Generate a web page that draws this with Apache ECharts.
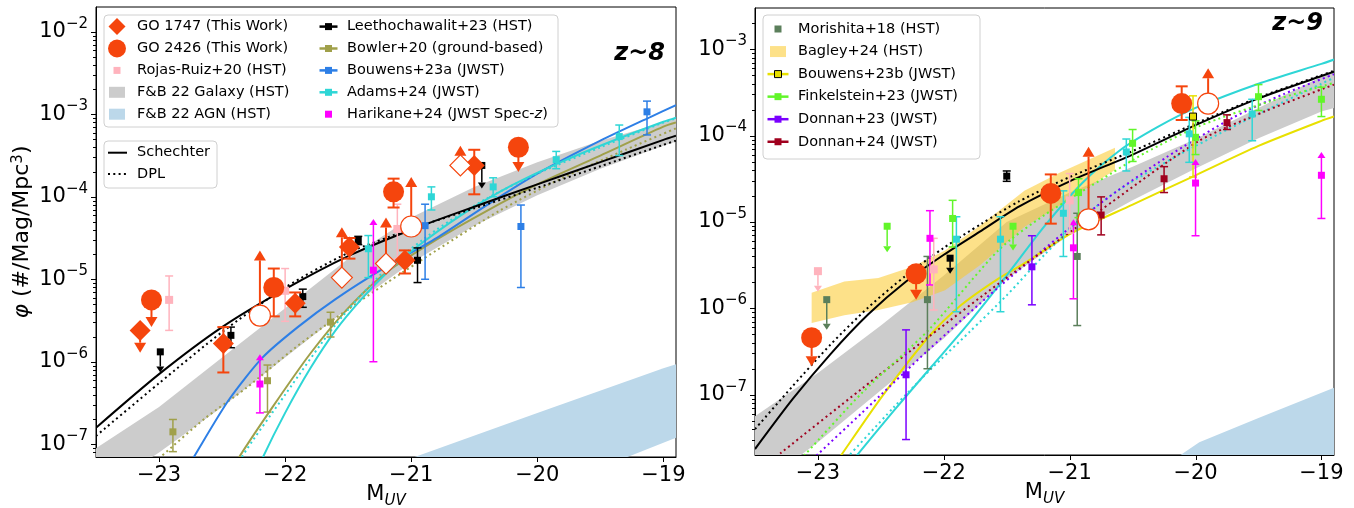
<!DOCTYPE html>
<html><head><meta charset="utf-8">
<script src="https://cdn.jsdelivr.net/npm/echarts@6/dist/echarts.min.js"></script>
<style>html,body{margin:0;padding:0;background:#fff}#c{width:1354px;height:508px}</style>
</head><body><div id="c"></div><script>
// ================= DATA (log10 phi values) =================
const X_TICKS = [-23, -22, -21, -20, -19];
// rows: [M_UV, log10 phi, log10 low (or arrow tip for upper limits), log10 high (or arrow tip for lower limits), limit 0/1(upper)/2(lower)]
// ---- z~8 ----
const go1747FilledZ8 = [[-23.15,-5.62,-5.89,null,1],[-22.49,-5.78,-6.13,-5.58,0],[-21.92,-5.29,-5.45,-5.16,0],[-21.49,-4.61,-4.75,-4.50,0],[-21.05,-4.77,-4.93,-4.65,0],[-20.50,-3.62,-3.97,-3.43,0]];
const go1747OpenZ8 = [[-21.55,-4.98,null,-4.37,2],[-21.20,-4.81,null,-4.25,2],[-20.61,-3.62,null,-3.38,2]];
const go2426FilledZ8 = [[-23.06,-5.25,-5.58,null,1],[-22.09,-5.10,-5.45,-4.87,0],[-21.14,-3.94,-4.13,-3.78,0],[-20.15,-3.40,-3.70,null,1]];
const go2426OpenZ8 = [[-22.20,-5.44,null,-4.65,2],[-21.00,-4.36,null,-3.76,2]];
const rojasZ8 = [[-22.92,-5.25,-5.62,-4.96,0],[-22.00,-5.14,-5.51,-4.87,0],[-21.11,-4.39,-4.75,-4.09,0]];
const leethoZ8 = [[-22.99,-5.88,-6.13,null,1],[-22.43,-5.68,-5.83,-5.58,0],[-21.86,-5.21,-5.34,-5.12,0],[-21.42,-4.53,-4.58,-4.48,0],[-20.95,-4.77,-5.04,-4.62,0],[-20.44,-3.62,-3.90,null,1]];
const bowlerZ8 = [[-22.89,-6.85,-7.09,-6.70,0],[-22.14,-6.23,-6.61,-6.04,0],[-21.64,-5.52,-5.70,-5.40,0]];
const bouwensZ8 = [[-20.89,-4.35,-5.00,-4.09,0],[-20.13,-4.36,-5.10,-4.10,0],[-19.13,-2.97,-3.25,-2.84,0]];
const adamsZ8 = [[-21.34,-4.63,-4.98,-4.47,0],[-20.84,-4.00,-4.16,-3.88,0],[-20.35,-3.88,-4.00,-3.77,0],[-19.85,-3.55,-3.66,-3.45,0],[-19.35,-3.27,-3.50,-3.13,0]];
const harikaneZ8 = [[-22.20,-6.27,-6.62,-5.91,2],[-21.30,-4.89,-6.00,-4.27,2]];
// curves [M, log10 phi]
const schechterZ8 = [[-23.5,-6.80],[-23.0,-6.15],[-22.5,-5.58],[-22.0,-5.12],[-21.5,-4.72],[-21.0,-4.40],[-20.5,-4.12],[-20.0,-3.85],[-19.5,-3.58],[-19.0,-3.31],[-18.9,-3.26]];
const dplZ8 = [[-23.5,-6.90],[-23.0,-6.26],[-22.5,-5.64],[-22.0,-5.10],[-21.5,-4.68],[-21.0,-4.39],[-20.5,-4.14],[-20.0,-3.89],[-19.5,-3.63],[-19.0,-3.37],[-18.9,-3.32]];
const bouwensFitZ8 = [[-22.8,-7.35],[-22.73,-7.17],[-22.45,-6.47],[-22.18,-5.95],[-21.9,-5.58],[-21.6,-5.24],[-21.2,-4.85],[-20.8,-4.50],[-20.4,-4.10],[-20.0,-3.72],[-19.5,-3.32],[-19.1,-3.03],[-18.9,-2.89]];
const adamsFitZ8 = [[-22.3,-7.6],[-22.18,-7.17],[-22.0,-6.62],[-21.8,-6.08],[-21.6,-5.62],[-21.4,-5.25],[-21.2,-4.93],[-21.0,-4.66],[-20.6,-4.22],[-20.2,-3.86],[-19.8,-3.57],[-19.4,-3.32],[-19.0,-3.09],[-18.9,-3.04]];
const adamsDplZ8 = [[-22.45,-7.5],[-22.35,-7.17],[-22.0,-6.40],[-21.6,-5.55],[-21.2,-4.88],[-20.8,-4.40],[-20.4,-4.02],[-20.0,-3.72],[-19.5,-3.40],[-19.0,-3.10],[-18.9,-3.05]];
const bowlerFitZ8 = [[-22.5,-7.55],[-22.37,-7.17],[-22.1,-6.55],[-21.8,-5.90],[-21.5,-5.35],[-21.2,-4.92],[-20.8,-4.52],[-20.4,-4.17],[-20.0,-3.85],[-19.5,-3.50],[-19.0,-3.15],[-18.9,-3.10]];
const bowlerDplZ8 = [[-23.1,-7.3],[-23.0,-7.17],[-22.63,-6.68],[-22.31,-6.32],[-21.92,-5.83],[-21.6,-5.47],[-21.2,-5.05],[-20.8,-4.65],[-20.3,-4.17],[-19.8,-3.77],[-19.3,-3.43],[-18.9,-3.17]];
const fbGalaxyTopZ8 = [[-23.5,-7.05],[-23.0,-6.55],[-22.5,-5.95],[-22.0,-5.35],[-21.5,-4.75],[-21.0,-4.25],[-20.5,-3.88],[-20.0,-3.58],[-19.5,-3.32],[-19.0,-3.10],[-18.9,-3.05]];
const fbGalaxyBotZ8 = [[-23.5,-7.6],[-23.0,-7.1],[-22.5,-6.55],[-22.0,-5.95],[-21.5,-5.35],[-21.0,-4.80],[-20.5,-4.35],[-20.0,-3.98],[-19.5,-3.66],[-19.0,-3.38],[-18.9,-3.33]];
const fbAgnTopZ8 = [[-21.2,-7.3],[-21.0,-7.17],[-20.0,-6.62],[-19.0,-6.08],[-18.9,-6.03]];
const fbAgnBotZ8 = [[-21.2,-8.3],[-19.31,-7.17],[-18.9,-6.92]];
// ---- z~9 ----
const go2426FilledZ9 = [[-23.05,-6.34,-6.67,null,1],[-22.22,-5.60,-5.90,null,1],[-21.15,-4.67,-5.02,-4.45,0],[-20.11,-3.63,-3.82,-3.43,0]];
const go2426OpenZ9 = [[-20.85,-4.97,null,-4.13,2],[-19.90,-3.63,null,-3.22,2]];
const morishitaZ9 = [[-22.93,-5.90,-6.25,null,1],[-22.13,-5.90,-6.70,-5.40,0],[-20.94,-5.40,-6.20,-4.90,0]];
const bouwensZ9 = [[-20.02,-3.78,-4.48,-3.54,0]];
const finkelsteinZ9 = [[-22.45,-5.05,-5.35,null,1],[-21.93,-4.96,-5.29,-4.75,0],[-21.45,-5.05,-5.33,null,1],[-20.93,-4.66,-4.95,-4.50,0],[-20.50,-4.09,-4.30,-3.93,0],[-20.00,-4.02,-4.22,-3.83,0],[-19.50,-3.55,-3.71,-3.41,0],[-19.00,-3.58,-3.78,-3.44,0]];
const donnan23Z9 = [[-22.30,-6.77,-7.52,-6.25,0],[-21.30,-5.52,-5.96,-5.16,0]];
const donnan24Z9 = [[-20.75,-4.92,-5.15,-4.71,0],[-20.25,-4.50,-4.66,-4.36,0],[-19.75,-3.85,-3.93,-3.76,0]];
const adamsZ9 = [[-21.90,-5.20,-6.04,-4.94,0],[-21.55,-5.20,-6.04,-4.94,0],[-21.05,-4.90,-5.40,-4.64,0],[-20.55,-4.19,-4.41,-4.04,0],[-20.05,-3.98,-4.31,-3.79,0],[-19.55,-3.75,-4.06,-3.58,0]];
const harikaneZ9 = [[-22.11,-5.19,-5.73,-4.87,0],[-20.97,-5.30,-5.89,-4.97,2],[-20.00,-4.55,-5.16,-4.27,2],[-19.00,-4.46,-4.96,-4.19,2]];
const rojasZ9 = [[-23.00,-5.57,-5.81,null,1],[-22.08,-5.55,-6.02,-5.19,0],[-21.00,-4.75,-5.13,-4.44,0]];
const leethoZ9 = [[-21.95,-5.42,-5.60,null,1],[-21.50,-4.47,-4.53,-4.41,0]];
const schechterZ9 = [[-23.5,-7.63],[-23.2,-7.05],[-22.9,-6.53],[-22.6,-6.07],[-22.3,-5.69],[-22.0,-5.38],[-21.7,-5.10],[-21.4,-4.82],[-21.0,-4.53],[-20.5,-4.22],[-20.0,-3.88],[-19.5,-3.57],[-19.0,-3.31],[-18.9,-3.26]];
const dplZ9 = [[-23.5,-7.40],[-23.2,-6.90],[-22.9,-6.42],[-22.6,-5.99],[-22.3,-5.62],[-22.0,-5.30],[-21.7,-5.02],[-21.4,-4.76],[-21.0,-4.48],[-20.5,-4.18],[-20.0,-3.86],[-19.5,-3.56],[-19.0,-3.30],[-18.9,-3.25]];
const adamsFitZ9 = [[-22.75,-7.8],[-22.7,-7.72],[-22.4,-7.19],[-22.1,-6.68],[-21.8,-6.17],[-21.5,-5.62],[-21.2,-5.05],[-20.9,-4.55],[-20.6,-4.17],[-20.3,-3.90],[-20.0,-3.68],[-19.5,-3.40],[-19.0,-3.17],[-18.9,-3.12]];
const adamsDplZ9 = [[-22.8,-7.78],[-22.4,-7.15],[-22.1,-6.70],[-21.8,-6.28],[-21.5,-5.85],[-21.2,-5.38],[-20.9,-4.95],[-20.6,-4.62],[-20.3,-4.36],[-20.0,-4.12],[-19.5,-3.75],[-19.0,-3.40],[-18.9,-3.33]];
const bouwensFitZ9 = [[-22.85,-7.78],[-22.81,-7.69],[-22.49,-7.02],[-22.12,-6.33],[-21.86,-5.96],[-21.56,-5.65],[-21.36,-5.48],[-21.0,-5.14],[-20.5,-4.80],[-20.0,-4.46],[-19.5,-4.12],[-19.0,-3.83],[-18.9,-3.78]];
const finkelsteinDplZ9 = [[-23.2,-7.84],[-23.1,-7.69],[-22.65,-6.98],[-22.12,-6.25],[-21.56,-5.32],[-21.2,-4.92],[-20.76,-4.52],[-20.4,-4.20],[-19.97,-3.89],[-19.4,-3.60],[-18.9,-3.39]];
const donnan23DplZ9 = [[-23.1,-7.84],[-23.0,-7.69],[-22.65,-7.21],[-22.12,-6.48],[-21.56,-5.75],[-20.76,-4.79],[-20.23,-4.25],[-19.70,-3.79],[-19.3,-3.52],[-18.9,-3.29]];
const donnan24DplZ9 = [[-23.4,-7.8],[-23.29,-7.67],[-22.65,-6.93],[-22.12,-6.33],[-21.56,-5.71],[-20.76,-4.87],[-19.97,-4.06],[-19.45,-3.72],[-18.9,-3.41]];
const fbGalaxyTopZ9 = [[-23.5,-7.25],[-23.0,-6.75],[-22.5,-6.2],[-22.0,-5.62],[-21.5,-5.0],[-21.0,-4.66],[-20.5,-4.36],[-20.0,-4.04],[-19.5,-3.68],[-19.0,-3.32],[-18.9,-3.27]];
const fbGalaxyBotZ9 = [[-23.5,-8.1],[-23.0,-7.55],[-22.5,-6.95],[-22.0,-6.35],[-21.5,-5.66],[-21.0,-5.15],[-20.5,-4.75],[-20.0,-4.38],[-19.5,-4.03],[-19.0,-3.72],[-18.9,-3.68]];
const fbAgnTopZ9 = [[-20.3,-7.85],[-20.13,-7.71],[-19.97,-7.55],[-19.5,-7.27],[-18.9,-6.92]];
const fbAgnBotZ9 = [[-20.3,-9.0],[-18.9,-8.5]];
const bagleyTopZ9 = [[-23.05,-5.82],[-22.79,-5.69],[-22.52,-5.65],[-22.25,-5.52],[-21.99,-5.33],[-21.71,-5.04],[-21.36,-4.64],[-21.08,-4.43],[-20.64,-4.14]];
const bagleyBotZ9 = [[-23.05,-6.17],[-22.79,-6.08],[-22.52,-6.02],[-22.25,-5.93],[-21.99,-5.79],[-21.71,-5.50],[-21.36,-5.06],[-21.08,-4.81],[-20.64,-4.40]];
// legend labels
const legendZ8Col1 = ['GO 1747 (This Work)','GO 2426 (This Work)','Rojas-Ruiz+20 (HST)','F&B 22 Galaxy (HST)','F&B 22 AGN (HST)'];
const legendZ8Col2 = ['Leethochawalit+23 (HST)','Bowler+20 (ground-based)','Bouwens+23a (JWST)','Adams+24 (JWST)','Harikane+24 (JWST Spec-'];
const legendFit = ['Schechter','DPL'];
const legendZ9 = ['Morishita+18 (HST)','Bagley+24 (HST)','Bouwens+23b (JWST)','Finkelstein+23 (JWST)','Donnan+23 (JWST)','Donnan+24 (JWST)'];

// ================= STYLE =================
const FONT = '"DejaVu Sans", sans-serif';
const C = {orange:'#f5450d', pink:'#ffb3bd', gray:'#cccccc', agn:'#bcd8ea', black:'#000000', olive:'#a0a04a',
  blue:'#2d7fe6', cyan:'#2ed6d6', magenta:'#ff00ff', morishita:'#5b7f5b', bagley:'rgba(252,200,40,0.55)',
  yellow:'#e8e000', green:'#62f52a', purple:'#7a00ff', red:'#a0001e'};
const P = v => Math.pow(10, v);

function errSeries(rows, color, gi, o) {
  o = Object.assign({lw:1.5, cap:4, hw:4, hl:6, z:3}, o || {});
  return {
    type:'custom', xAxisIndex:gi, yAxisIndex:gi, z:o.z, silent:true, clip:true,
    dimensions:['x','y','lo','hi','lim'], encode:{x:0, y:1},
    data: rows.map(r => [r[0], P(r[1]), r[2]==null?0:P(r[2]), r[3]==null?0:P(r[3]), r[4]||0]),
    renderItem: (params, api) => {
      const x = api.value(0), y = api.value(1), lo = api.value(2), hi = api.value(3), lim = api.value(4);
      const p = api.coord([x, y]); const cx = p[0];
      const ch = []; const st = {stroke:color, lineWidth:o.lw};
      const L = (x1,y1,x2,y2) => ch.push({type:'line', shape:{x1,y1,x2,y2}, style:st});
      const Y = v => api.coord([x, v])[1];
      if (lim === 0) {
        const a = Y(lo), b = Y(hi);
        L(cx,a,cx,b); L(cx-o.cap,a,cx+o.cap,a); L(cx-o.cap,b,cx+o.cap,b);
      } else if (lim === 1) {
        const t = Y(lo); const s = hi > 0 ? Y(hi) : p[1];
        L(cx,s,cx,t-o.hl); if (hi > 0) L(cx-o.cap,s,cx+o.cap,s);
        ch.push({type:'polygon', shape:{points:[[cx-o.hw,t-o.hl],[cx+o.hw,t-o.hl],[cx,t]]}, style:{fill:color}});
      } else {
        const t = Y(hi); const s = lo > 0 ? Y(lo) : p[1];
        L(cx,s,cx,t+o.hl); if (lo > 0) L(cx-o.cap,s,cx+o.cap,s);
        ch.push({type:'polygon', shape:{points:[[cx-o.hw,t+o.hl],[cx+o.hw,t+o.hl],[cx,t]]}, style:{fill:color}});
      }
      return {type:'group', children:ch};
    }
  };
}
function markSeries(rows, symbol, size, color, gi, o) {
  o = o || {};
  return {type:'scatter', xAxisIndex:gi, yAxisIndex:gi, symbol, symbolSize:size, z:o.z||4, silent:true,
    itemStyle:{color:o.fill||color, borderColor:o.border||color, borderWidth:o.bw||0, opacity:1},
    data: rows.map(r => [r[0], P(r[1])])};
}
// smooth curve drawn as a polyline through the axis scales (pixel-space smoothing)
function curve(pts, color, dotted, gi) {
  return {type:'custom', xAxisIndex:gi, yAxisIndex:gi, z:2, silent:true, clip:true,
    data:[[pts[pts.length-1][0], P(pts[pts.length-1][1])]], encode:{x:0, y:1},
    renderItem: (params, api) => ({type:'polyline',
      shape:{points: pts.map(p => api.coord([p[0], P(p[1])])), smooth:0.25},
      style:{stroke:color, lineWidth:2, fill:null, lineDash: dotted ? [2, 3.3] : null, lineJoin:'round'}})};
}
function band(top, bot, color, gi) {
  return {type:'custom', xAxisIndex:gi, yAxisIndex:gi, z:1, silent:true, clip:true,
    data:[[-21, 1e-5]], encode:{x:0, y:1},
    renderItem: (params, api) => {
      const pts = top.map(p => api.coord([p[0], P(p[1])]));
      for (let i = bot.length-1; i >= 0; i--) pts.push(api.coord([bot[i][0], P(bot[i][1])]));
      return {type:'polygon', shape:{points:pts}, style:{fill:color}};
    }};
}
function tickSeries(gi, xmin, ymin, ymax) {
  return {type:'custom', xAxisIndex:gi, yAxisIndex:gi, z:10, silent:true, clip:false,
    data:[[xmin, ymin]], encode:{x:0, y:1},
    renderItem: (params, api) => {
      const ch = []; const st = {stroke:'#000', lineWidth:1};
      const c0 = api.coord([xmin, ymin]);
      for (let n = -9; n <= -1; n++) for (let k = 1; k <= 9; k++) {
        const v = k * Math.pow(10, n);
        if (v < ymin * 1.0001 || v > ymax * 0.9999) continue;
        const py = Math.round(api.coord([xmin, v])[1]) + 0.5; const len = k === 1 ? 5 : 3;
        ch.push({type:'line', shape:{x1:c0[0]-len, y1:py, x2:c0[0], y2:py}, style:st});
      }
      X_TICKS.forEach(m => { const px = Math.round(api.coord([m, ymin])[0]) + 0.5;
        ch.push({type:'line', shape:{x1:px, y1:c0[1], x2:px, y2:c0[1]+5}, style:st}); });
      return {type:'group', children:ch};
    }};
}

const orangeErr = {lw:2, cap:6, hw:6, hl:10, z:5};
const smallArrow = {lw:1.5, cap:4, hw:4, hl:6, z:3};

const seriesZ8 = [
  band(fbGalaxyTopZ8, fbGalaxyBotZ8, C.gray, 0),
  band(fbAgnTopZ8, fbAgnBotZ8, C.agn, 0),
  curve(bowlerFitZ8, C.olive, false, 0), curve(bowlerDplZ8, C.olive, true, 0),
  curve(bouwensFitZ8, C.blue, false, 0),
  curve(adamsFitZ8, C.cyan, false, 0), curve(adamsDplZ8, C.cyan, true, 0),
  curve(schechterZ8, C.black, false, 0), curve(dplZ8, C.black, true, 0),
  errSeries(rojasZ8, C.pink, 0, smallArrow), markSeries(rojasZ8, 'rect', 8, C.pink, 0),
  errSeries(leethoZ8, C.black, 0, smallArrow), markSeries(leethoZ8, 'rect', 7, C.black, 0),
  errSeries(bowlerZ8, C.olive, 0, smallArrow), markSeries(bowlerZ8, 'rect', 7, C.olive, 0),
  errSeries(bouwensZ8, C.blue, 0, smallArrow), markSeries(bouwensZ8, 'rect', 7, C.blue, 0),
  errSeries(adamsZ8, C.cyan, 0, smallArrow), markSeries(adamsZ8, 'rect', 7, C.cyan, 0),
  errSeries(harikaneZ8, C.magenta, 0, smallArrow), markSeries(harikaneZ8, 'rect', 7, C.magenta, 0),
  errSeries(go1747FilledZ8, C.orange, 0, orangeErr), errSeries(go1747OpenZ8, C.orange, 0, orangeErr),
  errSeries(go2426FilledZ8, C.orange, 0, orangeErr), errSeries(go2426OpenZ8, C.orange, 0, orangeErr),
  markSeries(go1747FilledZ8, 'diamond', 21, C.orange, 0, {z:6}),
  markSeries(go1747OpenZ8, 'diamond', 21, C.orange, 0, {z:6, fill:'#fff', border:C.orange, bw:1.2}),
  markSeries(go2426FilledZ8, 'circle', 21, C.orange, 0, {z:6}),
  markSeries(go2426OpenZ8, 'circle', 21, C.orange, 0, {z:6, fill:'#fff', border:C.orange, bw:1.2}),
  tickSeries(0, -23.5, 7e-8, 0.02)
];
const seriesZ9 = [
  band(fbGalaxyTopZ9, fbGalaxyBotZ9, C.gray, 1),
  band(fbAgnTopZ9, fbAgnBotZ9, C.agn, 1),
  band(bagleyTopZ9, bagleyBotZ9, C.bagley, 1),
  curve(bouwensFitZ9, C.yellow, false, 1),
  curve(adamsFitZ9, C.cyan, false, 1), curve(adamsDplZ9, C.cyan, true, 1),
  curve(donnan23DplZ9, C.purple, true, 1), curve(donnan24DplZ9, C.red, true, 1),
  curve(finkelsteinDplZ9, C.green, true, 1),
  curve(schechterZ9, C.black, false, 1), curve(dplZ9, C.black, true, 1),
  errSeries(morishitaZ9, C.morishita, 1, smallArrow), markSeries(morishitaZ9, 'rect', 7, C.morishita, 1),
  errSeries(bouwensZ9, C.yellow, 1, smallArrow), markSeries(bouwensZ9, 'rect', 7, C.yellow, 1, {border:'#000', bw:1}),
  errSeries(finkelsteinZ9, C.green, 1, smallArrow), markSeries(finkelsteinZ9, 'rect', 7, C.green, 1),
  errSeries(donnan23Z9, C.purple, 1, smallArrow), markSeries(donnan23Z9, 'rect', 7, C.purple, 1),
  errSeries(donnan24Z9, C.red, 1, smallArrow), markSeries(donnan24Z9, 'rect', 7, C.red, 1),
  errSeries(adamsZ9, C.cyan, 1, smallArrow), markSeries(adamsZ9, 'rect', 7, C.cyan, 1),
  errSeries(harikaneZ9, C.magenta, 1, smallArrow), markSeries(harikaneZ9, 'rect', 7, C.magenta, 1),
  errSeries(rojasZ9, C.pink, 1, smallArrow), markSeries(rojasZ9, 'rect', 8, C.pink, 1),
  errSeries(leethoZ9, C.black, 1, smallArrow), markSeries(leethoZ9, 'rect', 7, C.black, 1),
  errSeries(go2426FilledZ9, C.orange, 1, orangeErr), errSeries(go2426OpenZ9, C.orange, 1, orangeErr),
  markSeries(go2426FilledZ9, 'circle', 21, C.orange, 1, {z:6}),
  markSeries(go2426OpenZ9, 'circle', 21, C.orange, 1, {z:6, fill:'#fff', border:C.orange, bw:1.2}),
  tickSeries(1, -23.5, 2e-8, 3e-3)
];

// ================= AXES =================
const richTick = {
  b:{fontSize:21, fontFamily:FONT, color:'#000', padding:[5,0,0,0], verticalAlign:'bottom'},
  s:{fontSize:15, fontFamily:FONT, color:'#000', verticalAlign:'top'}
};
function xAxisCfg(gi) {
  return {type:'value', gridIndex:gi, min:-23.5, max:-18.9, splitLine:{show:false},
    axisLine:{show:true, lineStyle:{color:'#000', width:1}}, axisTick:{show:false},
    axisLabel:{fontSize:21, fontFamily:FONT, color:'#000', margin:8,
      formatter: v => (Math.abs(v - Math.round(v)) < 1e-6 ? '\u2212' + Math.abs(Math.round(v)) : '')},
    name:'{m|M}{s|UV}', nameLocation:'middle', nameGap:27, nameMoveOverlap:false,
    nameTextStyle:{verticalAlign:'top', rich:{m:{fontSize:21, fontFamily:FONT, color:'#000', padding:[0,0,4,0], verticalAlign:'bottom'},
      s:{fontSize:15, fontFamily:FONT, fontStyle:'italic', color:'#000', verticalAlign:'bottom'}}}};
}
function yAxisCfg(gi, mn, mx, withName) {
  const c = {type:'log', logBase:10, gridIndex:gi, min:mn, max:mx, splitLine:{show:false},
    axisLine:{show:true, lineStyle:{color:'#000', width:1}}, axisTick:{show:false}, minorTick:{show:false},
    axisLabel:{margin:8, padding:[0,0,5,0], rich:richTick,
      formatter: v => { const l = Math.log10(v), r = Math.round(l);
        return Math.abs(l - r) < 1e-6 ? '{b|10}{s|\u2212' + Math.abs(r) + '}' : ''; }}};
  if (withName) {
    c.name = '{i|\u03c6}{n| (#/Mag/Mpc}{s|3}{n|)}'; c.nameLocation = 'middle'; c.nameGap = 63; c.nameRotate = 90;
    c.nameMoveOverlap = false;
    c.nameTextStyle = {rich:{i:{fontSize:22, fontFamily:FONT, fontStyle:'italic', color:'#000', verticalAlign:'bottom'},
      n:{fontSize:22, fontFamily:FONT, color:'#000', verticalAlign:'bottom'},
      s:{fontSize:15, fontFamily:FONT, color:'#000', verticalAlign:'top'}}};
  }
  return c;
}

// ================= LEGENDS (graphic) =================
const G = [];
const TF = '14.5px ' + FONT;
function txt(x, y, t, rich) {
  const st = {x, y, text:t, font:TF, fill:'#000', align:'left', verticalAlign:'middle', textAlign:'left', textVerticalAlign:'middle'};
  if (rich) st.rich = rich;
  G.push({type:'text', style:st, z:20});
}
function box(x, y, w, h) { G.push({type:'rect', shape:{x, y, width:w, height:h, r:4}, style:{fill:'rgba(255,255,255,0.8)', stroke:'#d0d0d0', lineWidth:1}, z:15}); }
function sq(cx, cy, s, color, border) { G.push({type:'rect', shape:{x:cx-s/2, y:cy-s/2, width:s, height:s}, style:{fill:color, stroke:border||null, lineWidth:border?1:0}, z:20}); }
function hl(x1, x2, y, color, w, dash) { G.push({type:'line', shape:{x1, y1:y, x2, y2:y}, style:{stroke:color, lineWidth:w, lineDash:dash||null}, z:20}); }
box(104, 15, 454, 112);
const rowY8 = i => 26.6 + i * 21.9;
G.push({type:'polygon', shape:{points:[[117,rowY8(0)-8.5],[125.5,rowY8(0)],[117,rowY8(0)+8.5],[108.5,rowY8(0)]]}, style:{fill:C.orange}, z:20});
G.push({type:'circle', shape:{cx:117, cy:rowY8(1), r:9}, style:{fill:C.orange}, z:20});
sq(117, rowY8(2), 7, C.pink);
G.push({type:'rect', shape:{x:109, y:rowY8(3)-5.5, width:16, height:11}, style:{fill:C.gray}, z:20});
G.push({type:'rect', shape:{x:109, y:rowY8(4)-5.5, width:16, height:11}, style:{fill:C.agn}, z:20});
legendZ8Col1.forEach((t, i) => txt(137, rowY8(i), t));
[C.black, C.olive, C.blue, C.cyan].forEach((c, i) => { hl(319.5, 337.5, rowY8(i), c, 2.5); sq(328.5, rowY8(i), 7, c); });
sq(328.5, rowY8(4), 7, C.magenta);
legendZ8Col2.forEach((t, i) => {
  if (i === 4) txt(347, rowY8(i), '{n|' + t + '}{i|z}{n|)}', {n:{font:TF, fill:'#000'}, i:{font:'italic ' + TF, fill:'#000'}});
  else txt(347, rowY8(i), t);
});
box(104, 141, 113, 47);
hl(108, 127, 152.7, '#000', 2);
hl(108, 127, 174, '#000', 2, [2, 3.3]);
legendFit.forEach((t, i) => txt(137, i ? 174 : 152.7, t));
box(763, 15, 217, 144);
const rowY9 = i => 29 + i * 22.55;
sq(778, rowY9(0), 7, C.morishita);
G.push({type:'rect', shape:{x:770, y:rowY9(1)-5.5, width:16, height:11}, style:{fill:C.bagley}, z:20});
hl(767.5, 788.5, rowY9(2), C.yellow, 2.5); sq(778, rowY9(2), 7, C.yellow, '#000');
[C.green, C.purple, C.red].forEach((c, i) => { hl(767.5, 788.5, rowY9(i+3), c, 2.5); sq(778, rowY9(i+3), 7, c); });
legendZ9.forEach((t, i) => txt(798, rowY9(i), t));
G.push({type:'text', style:{x:665, y:54, text:'z~8', font:'italic bold 24px ' + FONT, fill:'#000', align:'right', verticalAlign:'middle', textAlign:'right', textVerticalAlign:'middle'}, z:20});
G.push({type:'text', style:{x:1323, y:24, text:'z~9', font:'italic bold 24px ' + FONT, fill:'#000', align:'right', verticalAlign:'middle', textAlign:'right', textVerticalAlign:'middle'}, z:20});

const chart = echarts.init(document.getElementById('c'), null, {renderer:'canvas'});
chart.setOption({
  animation:false, backgroundColor:'#fff',
  grid:[{left:96, top:7, width:580, height:450, show:true, borderColor:'#000', borderWidth:1, backgroundColor:'transparent', containLabel:false, outerBoundsMode:'none'},
        {left:755, top:8, width:579, height:447, show:true, borderColor:'#000', borderWidth:1, backgroundColor:'transparent', containLabel:false, outerBoundsMode:'none'}],
  xAxis:[xAxisCfg(0), xAxisCfg(1)],
  yAxis:[yAxisCfg(0, 7e-8, 0.02, true), yAxisCfg(1, 2e-8, 3e-3, false)],
  series: seriesZ8.concat(seriesZ9),
  graphic:{elements:G}
});
</script></body></html>
